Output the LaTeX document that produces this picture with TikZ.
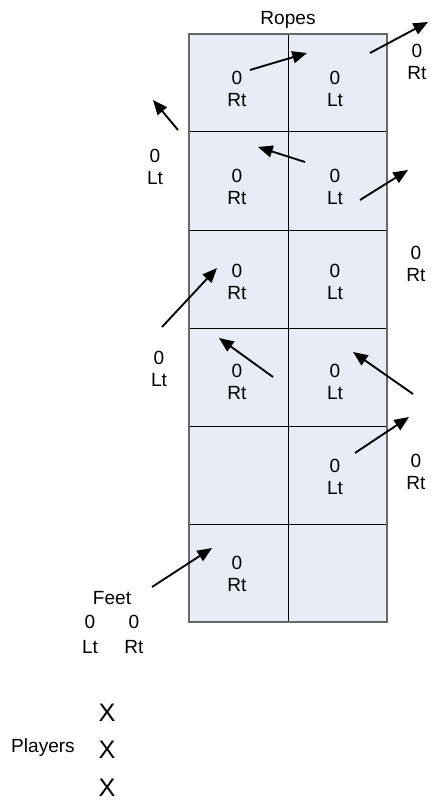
\documentclass[tikz,border=0pt]{standalone}
\usepackage{fontspec}
\setmainfont{Liberation Sans}
\usepackage{tikz}
\usetikzlibrary{arrows.meta}

\definecolor{cellblue}{RGB}{231,236,247}
\definecolor{edgegray}{RGB}{105,105,105}

\tikzset{
  lbl/.style={align=center, inner sep=0pt, font=\fontsize{14.3}{16.5}\selectfont},
  wide lbl/.style={align=center, inner sep=0pt, font=\fontsize{14.3}{18.75}\selectfont},
  player/.style={inner sep=0pt, font=\fontsize{19}{20}\selectfont},
  movearrow/.style={line width=1.4pt, -{Triangle[length=11pt,width=9pt]}},
}

\begin{document}
\begin{tikzpicture}[x=0.75pt,y=0.75pt,yscale=-1,xscale=1]
\useasboundingbox (0,0) rectangle (430,802);

%Shape: Rectangle (the court)
\fill [cellblue] (189,34) rectangle (387,622);
%Straight Lines (cell borders)
\draw [line width=0.75pt] (288,34) -- (288,622);
\draw [line width=0.75pt] (189,132) -- (387,132);
\draw [line width=0.75pt] (189,230) -- (387,230);
\draw [line width=0.75pt] (189,328) -- (387,328);
\draw [line width=0.75pt] (189,426) -- (387,426);
\draw [line width=0.75pt] (189,524) -- (387,524);
\draw [edgegray, line width=0.9pt] (189,34) rectangle (387,622);

% Text Node
\node [lbl] (ropes) at (288,20) {Ropes};
% cell texts
\node [lbl] (r1l) at (237,89) {0\\Rt};
\node [lbl] (r1r) at (335,89) {0\\Lt};
\node [lbl] (r2l) at (237,187) {0\\Rt};
\node [lbl] (r2r) at (335,187) {0\\Lt};
\node [lbl] (r3l) at (237,282) {0\\Rt};
\node [lbl] (r3r) at (335,282) {0\\Lt};
\node [lbl] (r4l) at (237,382) {0\\Rt};
\node [lbl] (r4r) at (335,382) {0\\Lt};
\node [lbl] (r5r) at (335,477) {0\\Lt};
\node [lbl] (r6l) at (237,574) {0\\Rt};
% outside texts
\node [lbl] (outr1) at (417,62) {0\\Rt};
\node [lbl] (outl1) at (155,167) {0\\Lt};
\node [lbl] (outr2) at (416,264) {0\\Rt};
\node [lbl] (outl2) at (159,369) {0\\Lt};
\node [lbl] (outr3) at (416,472) {0\\Rt};
% feet
\node [lbl] (feet) at (112,598) {Feet};
\node [wide lbl] (feetl) at (90,634) {0\\Lt};
\node [wide lbl] (feetr) at (134,634) {0\\Rt};
% players
\node [player] (p1) at (107,713) {X};
\node [player] (p2) at (107,750) {X};
\node [player] (p3) at (107,788) {X};
\node [lbl] (players) at (43,748) {Players};

% arrow ends
\coordinate (a1s) at (250,70);   \coordinate (a1e) at (307,53);
\coordinate (a2s) at (370,53);   \coordinate (a2e) at (428,22);
\coordinate (a3s) at (178,130);  \coordinate (a3e) at (153,100);
\coordinate (a4s) at (305,162);  \coordinate (a4e) at (258,147);
\coordinate (a5s) at (360,200);  \coordinate (a5e) at (408,170);
\coordinate (a6s) at (162,327);  \coordinate (a6e) at (217,268);
\coordinate (a7s) at (273,377);  \coordinate (a7e) at (219,338);
\coordinate (a8s) at (413,394);  \coordinate (a8e) at (353,352);
\coordinate (a9s) at (355,453);  \coordinate (a9e) at (409,417);
\coordinate (a10s) at (152,587); \coordinate (a10e) at (212,548);

%Straight Lines (moves)
\draw [movearrow] (a1s) -- (a1e);
\draw [movearrow] (a2s) -- (a2e);
\draw [movearrow] (a3s) -- (a3e);
\draw [movearrow] (a4s) -- (a4e);
\draw [movearrow] (a5s) -- (a5e);
\draw [movearrow] (a6s) -- (a6e);
\draw [movearrow] (a7s) -- (a7e);
\draw [movearrow] (a8s) -- (a8e);
\draw [movearrow] (a9s) -- (a9e);
\draw [movearrow] (a10s) -- (a10e);

\end{tikzpicture}
\end{document}
